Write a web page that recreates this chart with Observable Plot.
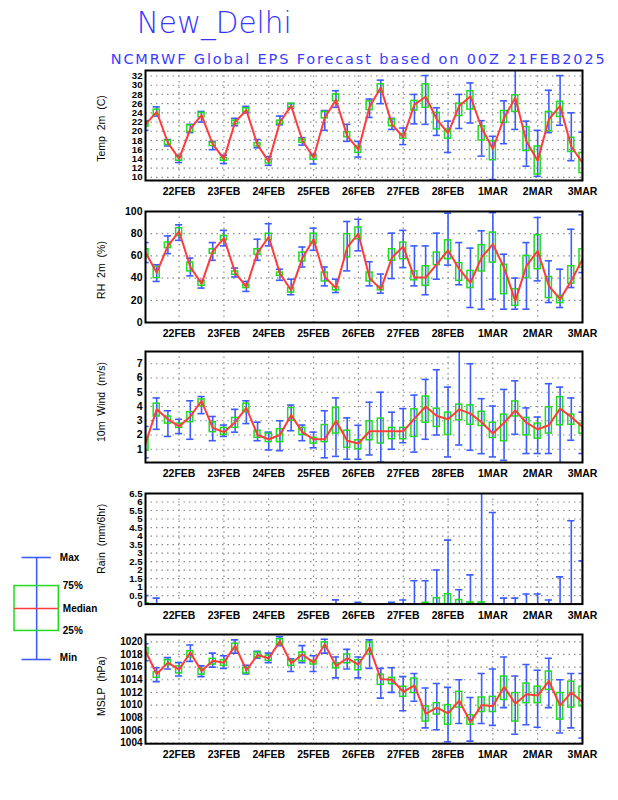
<!DOCTYPE html>
<html><head><meta charset="utf-8">
<script src="https://cdn.jsdelivr.net/npm/d3@7"></script>
<script src="https://cdn.jsdelivr.net/npm/@observablehq/plot@0.6"></script>
<style>
body{margin:0;background:#fff;}
#page{position:relative;width:618px;height:800px;overflow:hidden;background:#fff;}
.holder{position:absolute;left:0;}
svg text{white-space:pre;}
</style></head>
<body><div id="page">
<svg id="titles" width="618" height="70" style="position:absolute;left:0;top:0">
  <text x="136.7" y="33.3" textLength="155" lengthAdjust="spacingAndGlyphs" style="font:200 30px 'DejaVu Sans ExtraLight','DejaVu Sans',sans-serif;fill:#3535ff">New_Delhi</text>
  <text x="110.7" y="64" textLength="494" lengthAdjust="spacing" style="font:14.5px 'DejaVu Sans',sans-serif;fill:#3c3cff">NCMRWF Global EPS Forecast based on 00Z 21FEB2025</text>
</svg>
</div>
<script>
// ---- time axis: forecast lead hours from 00Z 21FEB2025 ----
const leadHours = [6,12,18,24,30,36,42,48,54,60,66,72,78,84,90,96,102,108,114,120,126,132,138,144,150,156,162,168,174,180,186,192,198,204,210,216,222,228,234,240];
const dayLabels = ["22FEB","23FEB","24FEB","25FEB","26FEB","27FEB","28FEB","1MAR","2MAR","3MAR"];

// ---- Temperature 2m (C) ----
const tempTicks = [10,12,14,16,18,20,22,24,26,28,30,32];
const tempMin = [20.2,23.3,16.8,13.2,19.7,22,16,13,21.2,24,16.4,12.6,21.4,25,17,12.9,20.2,25.2,17.8,14.4,23,26,20.4,17.1,21.6,21.5,19.1,15.4,20.6,21.8,14.6,9.5,17.3,20.4,12.4,10.2,19.7,21.3,13.6,9.3];
const tempQ1  = [21,23.5,17,13.6,19.8,23,16.8,13.6,21.5,24.2,16.7,13,21.5,25.2,17.5,13.8,22.8,26.5,18.7,15.3,24.6,28.4,21.1,18.4,24.5,25.1,20.4,18.4,23.3,24.7,18,13.7,21.8,24.2,15.7,10.6,20,23.1,15.5,10.9];
const tempMed = [21.5,24.2,17.5,14,20.5,23.5,17.2,14,22,24.6,17,13.4,22,25.5,18,14.3,23,26.8,19,16,25.3,29.5,21.5,18.7,25.8,27.5,22.6,19.6,25.5,27.6,20.7,16.2,22.9,27.3,17.8,13.6,22.6,25.5,16.7,13.1];
const tempQ3  = [22,24.7,18,14.5,21.3,24,17.5,14.2,22.3,25,17.4,13.8,22.3,26,18.2,14.6,24.2,28,19.8,16.7,26.5,30.2,22.6,19.4,26.6,30.2,24,20.4,26,28.7,21.1,17.8,24.4,27.8,20.9,16.7,24.2,26.4,18.6,15.3];
const tempMax = [22.3,25.3,18.2,14.8,21.5,24.3,17.8,14.8,22.8,25.4,18.2,14.5,23.3,26,18.6,15,24.5,28.8,21.5,17.8,27,31.1,22.8,20.7,28,32.1,25.1,22.2,28,30.5,22.3,18.9,26.6,33.5,22.2,20.2,28.9,32.1,24,19.8];

// ---- RH 2m (%) ----
const rhTicks = [0,20,40,60,80,100];
const rhMin = [54,37,62,74,42,31,56,69,41,28,56,69,38,25,50,65,33,27,46.5,64.6,33,26.4,39.6,49.5,33,25,39,51.7,34,13.5,12,21,12,12,12,37.5,18,13.5,31.5,45];
const rhQ1  = [59,40,67,78,46,33,62,74,43,31,61,74,42,27,55,71,37,29,58.6,75,37,29,55.6,57,38,33,51.7,57,37.5,31,46,54,25.5,15,40,48,22,17.4,35,49.5];
const rhMed = [63,45,69,82,50,35,64,76,45,32,63,77,44,29,58,75,41,31,67.6,80,40,30,58.6,68.5,40.5,40.5,52.6,65,48,36,58.6,70.6,49.5,19.5,51,64.5,33,21,37.5,57];
const rhQ3  = [66,50,72,85,54,37,66,78,46,34,66,80,45,31,63,80,45,32,79.6,85.6,45,32.4,66,72,46,50.7,63,74,53.5,46.5,69.7,81,52,30,60,78.7,41,24,50.7,66];
const rhMax = [72,52,78,88,58,38,72,83,49,37,75,89,48,39,68,85,50,39,91,93,54.7,43.6,80.5,83,69,69,80.5,98.5,72,67,82.6,99,61.5,40,72,94.6,55.6,48,84,97];

// ---- 10m Wind (m/s) ----
const windTicks = [1,2,3,4,5,6,7];
const windMin = [0.4,2.4,1.9,2.1,1.7,3.5,1.6,1.9,2.2,2.8,1.6,0.95,0.9,2.3,1.6,1.1,0.4,0.5,0.3,0.3,0.6,0.1,1.0,1.46,0.8,1.7,2.0,0.46,1.3,0.93,0.69,0.46,0.22,2.05,0.7,0.7,0.7,0.06,1.63,0.7];
const windQ1  = [0.9,3.3,2.8,2.5,2.9,4.0,2.2,2.0,2.5,3.6,1.8,1.5,1.5,3.0,2.0,1.4,1.5,2.1,1.1,1.0,1.63,1.4,1.7,1.7,1.86,2.86,2.56,2.0,3.03,2.72,2.63,1.79,1.56,3.3,1.98,1.74,2.1,2.68,2.72,2.1];
const windMed = [1.4,3.8,3.1,2.6,3.3,4.4,2.5,2.2,2.9,3.9,2.0,1.7,2.0,3.4,2.2,1.7,1.7,3.0,1.6,1.4,2.26,2.26,2.26,2.26,3.15,4.0,3.33,3.1,3.8,3.5,2.9,2.1,2.86,3.73,2.86,2.4,2.68,3.85,3.26,2.56];
const windQ3  = [1.8,4.2,3.3,2.8,3.6,4.5,2.9,2.5,3.2,4.2,2.3,2.1,2.4,3.9,2.5,1.8,2.7,3.9,2.3,1.63,2.96,3.15,2.5,2.5,3.8,4.7,3.85,3.57,4.13,4.08,3.63,2.86,3.43,4.36,3.2,2.8,3.94,4.66,3.43,2.8];
const windMax = [2.6,4.6,3.7,3.1,4.4,4.7,3.3,2.7,3.8,4.4,2.9,2.2,3.0,4.1,2.7,2.2,3.7,4.6,3.2,2.68,4.3,5.0,3.6,3.85,4.8,5.9,6.58,5.36,8.2,7.0,4.55,4.03,5.2,5.8,3.9,3.26,5.6,5.36,4.6,3.6];

// ---- Rain (mm/6hr) ----
const rainTicks = [0,0.5,1,1.5,2,2.5,3,3.5,4,4.5,5,5.5,6,6.5];
const rainMin = [0,0,0,0,0,0,0,0,0,0,0,0,0,0,0,0,0,0,0,0,0,0,0,0,0,0,0,0,0,0,0,0,0,0,0,0,0,0,0,0];
const rainQ1  = [0,0,0,0,0,0,0,0,0,0,0,0,0,0,0,0,0,0,0,0,0,0,0,0,0,0,0,0,0,0,0,0,0,0,0,0,0,0,0,0];
const rainMed = [0,0,0,0,0,0,0,0,0,0,0,0,0,0,0,0,0,0,0,0,0,0,0,0,0,0,0,0,0,0,0,0,0,0,0,0,0,0,0,0];
const rainQ3  = [0.05,0,0,0,0,0,0,0,0,0,0,0,0,0,0,0,0,0,0,0,0,0,0,0,0,0.08,0.35,0.58,0.24,0.1,0.1,0,0,0,0,0,0,0,0,0];
const rainMax = [0.5,0.35,0,0,0,0,0,0,0,0,0,0,0,0,0,0,0,0.25,0,0.1,0,0,0.1,0.24,1.37,1.37,2.0,3.76,0.84,1.72,7,5.38,0.35,0.35,0.59,0.59,0.24,1.6,4.9,2.54];

// ---- MSLP (hPa) ----
const mslpTicks = [1004,1006,1008,1010,1012,1014,1016,1018,1020];
const mslpMin = [1017,1013.7,1015.7,1014.6,1016.9,1014.5,1016,1015.8,1018.2,1014.9,1017.4,1016.7,1019.4,1015.3,1016.7,1015.3,1018.2,1014.3,1015.7,1014.3,1015.8,1011.1,1012,1009.1,1010.6,1006.4,1006.1,1004.2,1007.1,1004.3,1007.1,1006.8,1009.6,1005.4,1006.9,1006.5,1009.6,1005.6,1006.4,1004.8];
const mslpQ1  = [1018,1014.3,1016.3,1015,1017.5,1014.8,1016.4,1016.2,1018.7,1015,1017.5,1017,1019.5,1016.2,1016.9,1016.4,1019.1,1015.8,1016.6,1015.5,1018,1013.2,1013.3,1011.3,1011.9,1007.4,1008.5,1006.9,1009.6,1006.9,1008.9,1008.9,1010.8,1007.4,1010.3,1010.3,1012.4,1007.7,1009.6,1009.8];
const mslpMed = [1018.5,1014.9,1016.7,1015.6,1018.3,1015.4,1017,1016.7,1019.4,1015.5,1017.9,1017.4,1020.1,1016.6,1018,1016.7,1019.6,1016.2,1017.4,1016.4,1019.1,1014.1,1014,1012.1,1013.1,1008.6,1009.6,1008.7,1010.7,1007.3,1010,1009.8,1012.9,1010.2,1011.7,1011.5,1013.8,1009.9,1012,1010.5];
const mslpQ3  = [1019,1015.2,1017.1,1016.1,1018.5,1015.7,1017.3,1017.1,1019.7,1015.9,1018.3,1017.8,1020.4,1017,1018.3,1017,1019.9,1016.6,1018,1017.1,1019.9,1014.8,1014.3,1012.9,1014.2,1009.8,1010.3,1010,1012.1,1008.4,1011.2,1011.3,1014.5,1011.9,1013.4,1012.9,1015.3,1011.9,1013.7,1012.9];
const mslpMax = [1019.7,1015.9,1017.5,1016.7,1019.5,1016.2,1018.2,1017.8,1020.3,1016.3,1018.5,1018.2,1020.8,1017.3,1019.4,1017.8,1020.4,1017.6,1018.8,1017.6,1020.3,1015.8,1015.9,1014.5,1015,1012.7,1013.4,1012.8,1014,1011.2,1015,1015.7,1017.6,1014.6,1016.4,1015.5,1017.4,1014,1015,1015];

// ---- legend ----
const legendLabels = ["Max","75%","Median","25%","Min"];
const legendSample = [100,72,50,28,0];

// ---------------------------------------------------------------
const BLUE = "#3d5cff", GREEN = "#1edc1e", RED = "#ff3b3b", GRID = "#8a8a8a";
const FONT = "'Liberation Sans', Arial, sans-serif";
const HOUR = 3600e3;
const runTime = Date.UTC(2025, 1, 21, 0);
const times = leadHours.map(h => new Date(runTime + h * HOUR));
const xStart = times[0], xEnd = times[times.length - 1];
const dayTicks = dayLabels.map((_, i) => new Date(Date.UTC(2025, 1, 22 + i)));
const dayFmt = d => dayLabels[dayTicks.findIndex(t => +t === +d)];

const panels = [
  {label: "Temp  2m  (C)", top: 69.5, h: 110, domain: [9.3, 33.2], ticks: tempTicks, s: [tempMin, tempQ1, tempMed, tempQ3, tempMax], ldy: 3, fs: 9.6},
  {label: "RH  2m  (%)", top: 210.5, h: 111, domain: [0, 100], ticks: rhTicks, s: [rhMin, rhQ1, rhMed, rhQ3, rhMax], ldy: 3, fs: 10.5},
  {label: "10m  Wind  (m/s)", top: 351, h: 111, domain: [0.07, 7.86], ticks: windTicks, s: [windMin, windQ1, windMed, windQ3, windMax], ldy: -5, fs: 10.5},
  {label: "Rain  (mm/6hr)", top: 492.7, h: 110.6, domain: [0, 6.5], ticks: rainTicks, s: [rainMin, rainQ1, rainMed, rainQ3, rainMax], ldy: -10, fs: 9.6},
  {label: "MSLP  (hPa)", top: 634.3, h: 109.2, domain: [1003.9, 1021.15], ticks: mslpTicks, s: [mslpMin, mslpQ1, mslpMed, mslpQ3, mslpMax], ldy: -3, fs: 10}
];

const page = document.getElementById("page");
const MT = 8, MB = 26;

for (const p of panels) {
  const rows = times.map((t, i) => ({t, min: p.s[0][i], q1: p.s[1][i], med: p.s[2][i], q3: p.s[3][i], max: p.s[4][i],
    left: new Date(+t - 3 * HOUR), right: new Date(+t + 3 * HOUR)}));
  const chart = Plot.plot({
    width: 618, height: p.h + MT + MB,
    marginLeft: 145, marginRight: 36, marginTop: MT, marginBottom: MB,
    x: {type: "utc", domain: [xStart, xEnd]},
    y: {domain: p.domain},
    style: {background: "transparent", fontFamily: FONT, color: "black"},
    marks: [
      Plot.gridY(p.ticks, {stroke: GRID, strokeOpacity: 1, strokeWidth: 1.2, strokeDasharray: "1.5,4"}),
      Plot.gridX(dayTicks, {stroke: GRID, strokeOpacity: 1, strokeWidth: 1.2, strokeDasharray: "1.5,4"}),
      Plot.ruleX(rows, {x: "t", y1: "min", y2: "max", stroke: BLUE, strokeWidth: 1.6, clip: true}),
      Plot.ruleY(rows, {y: "max", x1: "left", x2: "right", insetLeft: 2, insetRight: 2, stroke: BLUE, strokeWidth: 1.6, clip: true}),
      Plot.ruleY(rows, {y: "min", x1: "left", x2: "right", insetLeft: 2, insetRight: 2, stroke: BLUE, strokeWidth: 1.6, clip: true}),
      Plot.rect(rows, {x1: "left", x2: "right", y1: "q1", y2: "q3", insetLeft: 2.6, insetRight: 2.6, fill: "none", stroke: GREEN, strokeWidth: 1.5, clip: true}),
      Plot.line(rows, {x: "t", y: "med", stroke: RED, strokeWidth: 2, clip: true}),
      Plot.frame({stroke: "black", strokeWidth: 2}),
      Plot.axisY(p.ticks, {tickSize: 0, tickPadding: 3, label: null, fontSize: p.fs, fontWeight: "bold", tickFormat: d => String(d)}),
      Plot.axisX(dayTicks, {tickSize: 0, tickPadding: 7, label: null, fontSize: 10.5, fontWeight: "bold", tickFormat: dayFmt}),
      Plot.text([p.label], {frameAnchor: "left", textAnchor: "middle", lineAnchor: "middle", rotate: -90, dx: -44, dy: p.ldy, text: d => d, fontSize: 10.5, fill: "black"})
    ]
  });
  const div = document.createElement("div");
  div.className = "holder";
  div.style.top = (p.top - MT) + "px";
  div.appendChild(chart);
  page.appendChild(div);
}

// legend key
const legendRows = legendLabels.map((label, i) => ({label, v: legendSample[i]}));
const sample = [{x1: 0, x2: 1, xc: 0.5, min: legendSample[4], q1: legendSample[3], med: legendSample[2], q3: legendSample[1], max: legendSample[0]}];
const legend = Plot.plot({
  width: 110, height: 122, marginLeft: 14, marginRight: 51.7, marginTop: 10, marginBottom: 10,
  x: {domain: [0, 1], axis: null}, y: {domain: [0, 100], axis: null},
  style: {background: "transparent", fontFamily: FONT, color: "black", overflow: "visible"},
  marks: [
    Plot.ruleX(sample, {x: "xc", y1: "min", y2: "max", stroke: BLUE, strokeWidth: 1.6}),
    Plot.ruleY(sample, {y: "max", x1: "x1", x2: "x2", insetLeft: 7.5, insetRight: 7.5, stroke: BLUE, strokeWidth: 1.6}),
    Plot.ruleY(sample, {y: "min", x1: "x1", x2: "x2", insetLeft: 7.5, insetRight: 7.5, stroke: BLUE, strokeWidth: 1.6}),
    Plot.rect(sample, {x1: "x1", x2: "x2", y1: "q1", y2: "q3", fill: "none", stroke: GREEN, strokeWidth: 1.5}),
    Plot.ruleY(sample, {y: "med", x1: "x1", x2: "x2", stroke: RED, strokeWidth: 1.5}),
    Plot.text(legendRows, {x: 1, y: "v", text: "label", textAnchor: "start", fontSize: 10, fontWeight: "bold", fill: "black"})
  ]
});
legend.querySelectorAll("text").forEach(t => {
  const s = t.textContent;
  const off = (s === "Max" || s === "Min") ? 1 : 4;
  t.setAttribute("dx", off);
  if (s === "Min") t.setAttribute("dy", "-0.15em");
});
const ldiv = document.createElement("div");
ldiv.className = "holder";
ldiv.style.top = "547px";
ldiv.appendChild(legend);
page.appendChild(ldiv);
</script>
</body></html>
